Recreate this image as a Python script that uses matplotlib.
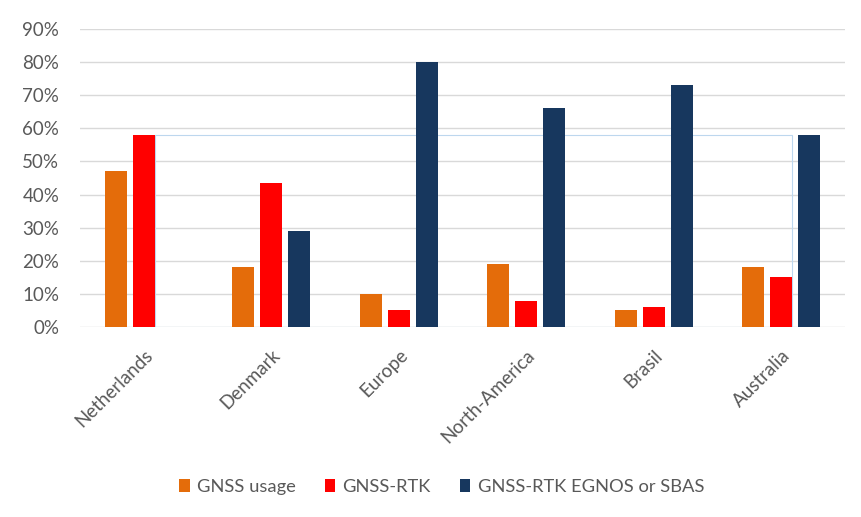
import numpy as np
import matplotlib
matplotlib.use("Agg")
import matplotlib.pyplot as plt
from matplotlib.patches import Rectangle
from matplotlib.ticker import PercentFormatter

categories = ["Netherlands", "Denmark", "Europe", "North-America", "Brasil", "Australia"]
gnss_usage = [47, 18, 10, 19, 5, 18]
gnss_rtk = [58, 43.5, 5, 8, 6, 15]
gnss_sbas = [0, 29, 80, 66, 73, 58]

series = [
    ("GNSS usage", gnss_usage, "#E46C0A"),
    ("GNSS-RTK", gnss_rtk, "#FF0000"),
    ("GNSS-RTK EGNOS or SBAS", gnss_sbas, "#17375E"),
]

plt.rcParams['font.family'] = ['Lato', 'DejaVu Sans']
text_col = "#595959"

fig = plt.figure(figsize=(8.62, 5.17), dpi=100)
ax = fig.add_axes([0.093, 0.3675, 0.887, 0.5765])

x = np.arange(len(categories))
width = 0.173
step = 0.22
for i, (name, vals, col) in enumerate(series):
    ax.bar(x + (i - 1) * step, vals, width, color=col, label=name, zorder=3)

# faint selection box left in the original screenshot
x0 = x[0] + width / 2
x1 = x[-1] + width / 2
ax.add_patch(Rectangle((x0, 0), x1 - x0, gnss_rtk[0], fill=False,
                       edgecolor="#bdd7ee", linewidth=0.8, zorder=2))

ax.set_xlim(-0.5, len(categories) - 0.5)
ax.set_ylim(0, 90)
ax.set_yticks(np.arange(0, 91, 10))
ax.yaxis.set_major_formatter(PercentFormatter(decimals=0))
ax.grid(axis="y", color="#d9d9d9", linewidth=1, zorder=0)
for s in ax.spines.values():
    s.set_visible(False)
ax.tick_params(axis="both", length=0, colors=text_col, labelsize=13.5)
ax.tick_params(axis="y", pad=15)
ax.tick_params(axis="x", pad=14)
ax.set_xticks(x)
ax.set_xticklabels(categories, rotation=45, ha="right", rotation_mode="anchor")

ax.legend(loc="center", bbox_to_anchor=(0.473, -0.537), ncol=3, frameon=False,
          fontsize=13.2, handlelength=0.55, handleheight=0.75, handletextpad=0.4,
          columnspacing=1.6, labelcolor=text_col)

fig.savefig("out.png", dpi=100)
